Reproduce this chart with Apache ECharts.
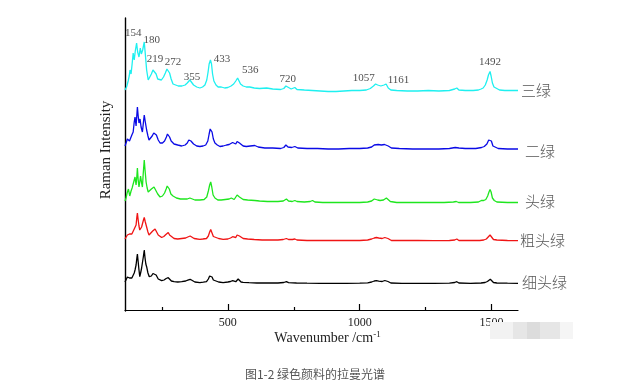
<!DOCTYPE html>
<html>
<head>
<meta charset="utf-8">
<script src="https://cdn.jsdelivr.net/npm/echarts@6/dist/echarts.min.js"></script>
<style>
html,body{margin:0;padding:0;background:#fff;}
#chart{width:631px;height:389px;}
</style>
</head>
<body>
<div id="chart"></div>
<script>
// ---- data (wavenumber, stacked intensity) ----
var seriesNames = ['三绿', '二绿', '头绿', '粗头绿', '细头绿'];

var cyanData = [[110,220],[116,223],[122,229],[126,234],[129,240],[133,236],[137,246],[141,257],[145,250],[149,259],[154,267],[158,258],[163,253],[168,262],[172,256],[177,260],[183,268],[187,256],[192,240],[198,230],[204,231],[210,236],[216,240],[222,241],[228,236],[234,231],[240,229],[248,230],[256,233],[263,237],[269,241],[274,242],[279,237],[285,231],[292,226],[299,225],[312,224],[326,224],[338,225],[346,227],[352,229],[356,230],[361,228],[370,225],[382,223],[394,222],[404,223],[413,225],[420,230],[425,238],[429,246],[434,250],[438,246],[442,236],[447,229],[455,225],[463,223],[475,223],[488,222],[500,222.5],[512,224],[522,226],[530,229],[537,232],[542,230],[548,226],[558,224],[570,223],[583,223],[600,222],[620,221.5],[647,222],[670,221],[700,220.5],[712,221.5],[720,224],[727,222],[740,221],[754,222.5],[762,220.5],[790,220],[820,219.5],[850,219],[880,218.5],[910,218.5],[940,219],[970,219.5],[1000,219.5],[1025,220],[1040,221.5],[1052,224],[1060,226],[1068,225],[1080,224],[1092,225],[1100,226],[1108,222],[1118,220],[1140,219.5],[1180,219],[1220,219],[1260,219.5],[1300,219],[1340,219.5],[1360,221],[1368,222],[1376,220],[1400,219.5],[1430,219.5],[1450,220],[1460,221],[1468,222],[1476,225],[1483,230],[1488,235],[1494,238.5],[1498,234],[1503,227],[1509,223],[1516,221],[1530,220],[1550,219.5],[1575,219.5],[1600,219.5]];

var blueData = [[110,164],[114,167],[119,171],[123,173],[127,169],[132,170],[136,175],[141,178],[145,188],[148,193],[152,184],[157,203],[160,194],[163,187],[167,191],[171,183],[176,178],[180,188],[183,195],[187,188],[192,180],[197,174],[201,170],[207,171],[213,174],[219,177],[224,178],[229,175],[236,170],[243,167],[252,167],[260,169],[267,173],[271,176],[274,177],[279,173],[285,169],[296,166],[310,165],[325,164],[338,165],[346,167],[352,170],[356,171],[360,169],[370,166],[382,164],[394,163.5],[406,164],[416,165],[424,169],[429,176],[433,181],[436,183],[440,178],[445,171],[451,167],[460,165],[470,163.5],[482,164],[495,165],[505,165.5],[512,166.5],[518,167.5],[524,165.5],[530,166],[535,168.5],[539,169.5],[544,167],[550,165],[558,164],[570,163.5],[585,164],[602,164.5],[615,163],[640,162],[670,162],[700,161.5],[712,162.5],[720,165],[728,163],[742,162.5],[754,163.5],[765,162],[800,161.5],[840,161.5],[880,161],[920,161],[960,161.5],[1000,161.5],[1030,162],[1045,163],[1055,165],[1062,166.5],[1070,165.5],[1082,165],[1094,165.5],[1101,166.5],[1108,164],[1120,162],[1150,161.5],[1200,161],[1250,161],[1300,161],[1340,161.5],[1362,162.5],[1369,164],[1376,162],[1400,161.5],[1440,161.5],[1462,162.5],[1472,163.5],[1482,166],[1489,170],[1494,172],[1499,169],[1505,164],[1512,162],[1525,161.5],[1560,161],[1600,161]];

var greenData = [[110,109],[114,112],[118,117],[123,121],[128,114],[133,119],[137,122],[141,124],[145,130],[148,133],[152,125],[155,134],[157,142],[160,130],[163,123],[166,128],[169,134],[173,127],[176,123],[179,136],[183,150],[186,140],[190,128],[194,122],[198,118],[204,119],[210,121],[216,123],[220,123],[226,120],[234,116],[243,113],[252,114],[260,117],[266,121],[270,124],[274,126],[278,121],[284,116],[292,114],[305,112],[320,111],[335,111],[346,111],[352,112],[356,112],[362,111],[375,110],[394,110],[410,110.5],[420,113],[426,119],[431,125],[435,128],[439,123],[444,115],[451,112],[462,110],[475,110],[490,110.5],[505,111],[513,112],[518,112],[524,110.5],[530,111],[535,115],[539,117],[544,113],[550,111],[558,110.5],[575,110],[602,109.5],[620,109],[650,108.5],[690,108.5],[710,109],[722,111],[730,109],[744,108.5],[754,109.5],[762,108.5],[790,108],[812,108.5],[821,109.5],[830,108],[860,107.5],[900,107.5],[950,107.5],[1000,107.5],[1030,108],[1045,109],[1055,111],[1061,112],[1068,110],[1077,109.5],[1090,110],[1097,111.5],[1101,112],[1107,110],[1116,108.5],[1140,107.5],[1200,107.5],[1260,107.5],[1320,107.5],[1355,108],[1366,108.5],[1375,107.5],[1420,107.5],[1450,108],[1461,109.5],[1470,109.5],[1478,110.5],[1485,114],[1490,118],[1494,120.5],[1498,118],[1503,112],[1510,109.5],[1520,108],[1560,107.5],[1600,107.5]];

var redData = [[110,71],[115,73],[119,75],[123,74],[127,76],[132,77],[136,76],[141,78],[145,81],[148,83],[152,85],[155,93],[157,97],[160,90],[163,84],[166,80],[170,82],[173,83],[177,84],[180,90],[183,92.5],[187,88],[192,83],[197,78],[201,75],[208,76],[215,79],[220,80.5],[224,81],[229,79],[236,75],[243,73],[249,72.5],[257,73.5],[265,75.5],[270,77],[274,77.5],[279,75],[286,73],[296,71.5],[310,71],[325,71.5],[340,72],[348,73],[353,74],[357,74],[362,73],[372,71.5],[385,71],[394,70.7],[405,71],[419,71.5],[426,74],[431,78],[435,80.5],[440,77],[445,73.5],[451,72.5],[465,71.5],[482,70.7],[500,71],[510,72],[518,73.3],[525,72],[530,72.5],[535,75],[539,76],[544,74],[550,72],[558,71.5],[575,71],[600,70.5],[630,70],[660,70],[690,70],[710,70.5],[722,71.5],[730,70.5],[745,70.5],[754,71],[762,70],[800,69.5],[850,69.5],[900,69.5],[950,69.5],[1000,69.5],[1030,70],[1045,71],[1055,72],[1063,72.5],[1072,72],[1085,71.5],[1095,72.5],[1101,73],[1107,71.5],[1120,69.5],[1160,69.5],[1220,69.5],[1280,69.3],[1340,69.5],[1360,70],[1368,71],[1376,69.5],[1420,69.5],[1455,69.5],[1470,70],[1480,71],[1487,73],[1494,75],[1500,73],[1507,70.5],[1520,70],[1560,69.5],[1600,69.3]];

var blackData = [[110,28],[114,30],[119,33],[123,35],[127,32],[132,30.7],[136,32],[141,33.3],[145,37],[148,40],[152,45],[155,52],[157,56],[160,48],[163,40],[166,33.3],[170,38],[173,42],[176,43.3],[180,54],[183,60],[186,52],[189,46],[192,43.3],[197,37],[202,33.3],[210,34],[216,36.5],[222,37.3],[228,35],[236,31],[243,29.5],[249,29.3],[258,30],[266,31.5],[270,32],[274,32.3],[279,30.5],[286,29],[296,28.3],[310,28],[325,28.3],[340,29],[348,29.8],[353,30.5],[357,30.7],[362,29.5],[375,28],[394,27.3],[407,27.8],[419,28.3],[426,31],[431,34],[436,36],[440,33],[445,30],[451,29.3],[465,28],[482,27.3],[500,28],[510,28.5],[518,29.3],[525,28.5],[530,28.3],[535,30],[539,31],[544,29.5],[550,28],[558,27.7],[580,27.3],[610,27],[650,27],[690,27],[712,27.5],[722,28.3],[730,27.3],[760,27],[800,26.8],[850,26.7],[900,26.7],[950,26.7],[1000,26.8],[1030,27.2],[1045,28],[1055,29],[1063,29.3],[1072,28.8],[1085,28.5],[1095,29.5],[1101,30],[1107,28.5],[1118,27],[1160,26.7],[1220,26.7],[1280,26.7],[1340,26.8],[1360,27.5],[1368,28.3],[1376,27],[1420,26.7],[1460,27],[1475,27.5],[1484,28.5],[1490,30],[1495,30.7],[1500,29.5],[1507,27.5],[1520,27],[1560,26.8],[1600,26.7]];

// peak annotations on the top spectrum
var peakLabels = ['154', '180', '219', '272', '355', '433', '536', '720', '1057', '1161', '1492'];
var peakLabelX = [141, 211, 224, 292, 364, 478, 585, 727, 1015, 1147, 1494];
var peakLabelY = [276.5, 270, 250.5, 247.5, 232.5, 250.5, 239.5, 231, 232, 230, 247.5];

var majorTicks = [500, 1000, 1500];
var minorTicks = [250, 750, 1250];

// ---- chart ----
var colors = ['#1ef0f0', '#0a0ae6', '#1ee61e', '#f01414', '#000000'];
var dataSets = [cyanData, blueData, greenData, redData, blackData];
var endOffsets = [[3, 0], [7, 2], [7, -1], [2, 0], [4, -1]];

var chart = echarts.init(document.getElementById('chart'), null, {renderer: 'canvas'});

var series = dataSets.map(function (d, i) {
  return {
    type: 'line',
    name: seriesNames[i],
    data: d,
    showSymbol: false,
    symbol: 'none',
    smooth: false,
    lineStyle: {color: colors[i], width: 1.3},
    itemStyle: {color: colors[i]},
    z: 3,
    endLabel: {
      show: true,
      formatter: '{a}',
      distance: 0,
      offset: endOffsets[i],
      color: '#555',
      fontSize: 15,
      fontFamily: 'Noto Sans CJK SC',
      fontWeight: 300
    }
  };
});

series.push({
  type: 'scatter',
  symbolSize: 0,
  z: 2,
  data: peakLabels.map(function (t, i) {
    return {name: t, value: [peakLabelX[i], peakLabelY[i]]};
  }),
  label: {
    show: true,
    position: 'inside',
    formatter: '{b}',
    color: '#222',
    fontSize: 11,
    fontFamily: 'Liberation Serif'
  }
});

var option = {
  animation: false,
  backgroundColor: '#fff',
  grid: {left: 125, right: 113, top: 18, bottom: 78, containLabel: false},
  xAxis: [{
    type: 'value',
    position: 'bottom',
    min: 110,
    max: 1600,
    splitLine: {show: false},
    axisLine: {show: true, lineStyle: {color: '#000', width: 1.2}},
    axisTick: {show: true, inside: true, length: 6, customValues: majorTicks, lineStyle: {color: '#000', width: 1.2}},
    axisLabel: {
      show: true, customValues: majorTicks, margin: 6, color: '#222', fontSize: 12, fontFamily: 'Liberation Serif',
      formatter: function (v) { return String(v); }
    },
    name: 'Wavenumber /cm{sup|-1}',
    nameLocation: 'middle',
    nameGap: 19,
    nameMoveOverlap: false,
    nameTextStyle: {
      color: '#222', fontSize: 14, fontFamily: 'Liberation Serif', padding: [0, 0, 0, 12],
      rich: {sup: {fontSize: 9, fontFamily: 'Liberation Serif', color: '#222', verticalAlign: 'top', padding: [0, 0, 8, 0]}}
    }
  }, {
    type: 'value',
    position: 'bottom',
    min: 110,
    max: 1600,
    splitLine: {show: false},
    axisLine: {show: false},
    axisTick: {show: true, inside: true, length: 4, customValues: minorTicks, lineStyle: {color: '#000', width: 1.2}},
    axisLabel: {show: false, customValues: minorTicks}
  }],
  yAxis: {
    type: 'value',
    min: -1,
    max: 292,
    splitLine: {show: false},
    axisLine: {show: true, lineStyle: {color: '#000', width: 1.4}},
    axisTick: {show: false},
    axisLabel: {show: false}
  },
  series: series,
  graphic: [
    {
      type: 'text', x: 106, y: 150, rotation: Math.PI / 2,
      style: {text: 'Raman Intensity', fill: '#222', font: '15px "Liberation Serif"', textAlign: 'center', textVerticalAlign: 'middle'}
    },
    {
      type: 'text', x: 315, y: 374,
      style: {text: '图1-2 绿色颜料的拉曼光谱', fill: '#555', font: '12px "Noto Sans CJK SC"', textAlign: 'center', textVerticalAlign: 'middle'}
    },
    {type: 'rect', z: 100, shape: {x: 490, y: 322, width: 23, height: 17}, style: {fill: '#f2f2f2'}},
    {type: 'rect', z: 100, shape: {x: 513, y: 322, width: 14, height: 17}, style: {fill: '#e6e6e6'}},
    {type: 'rect', z: 100, shape: {x: 527, y: 322, width: 13, height: 17}, style: {fill: '#dcdcdc'}},
    {type: 'rect', z: 100, shape: {x: 540, y: 322, width: 20, height: 17}, style: {fill: '#e6e6e6'}},
    {type: 'rect', z: 100, shape: {x: 560, y: 322, width: 13, height: 17}, style: {fill: '#f5f5f5'}}
  ]
};

chart.setOption(option);
</script>
</body>
</html>
